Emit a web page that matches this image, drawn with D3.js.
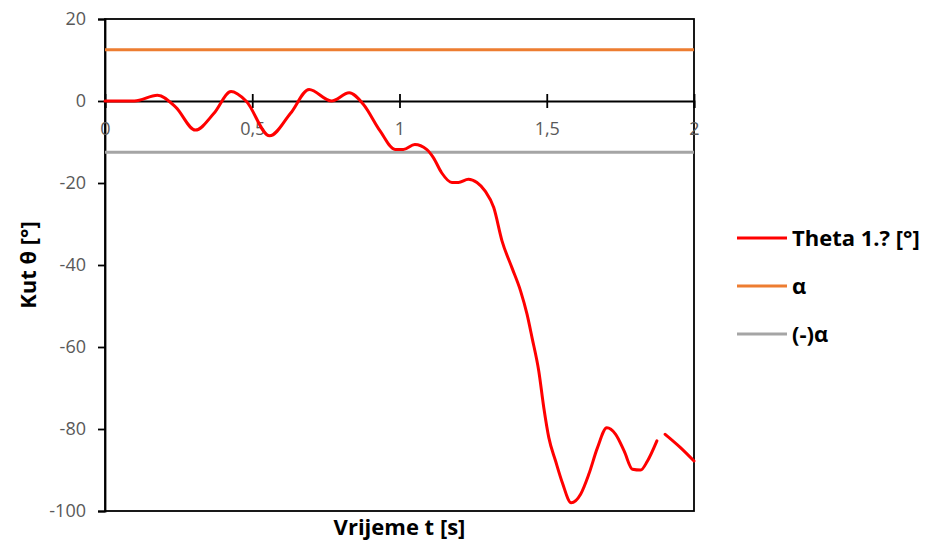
<!DOCTYPE html>
<html>
<head>
<meta charset="utf-8">
<title>Kut theta</title>
<script src="https://d3js.org/d3.v7.min.js"></script>
<style>
  body { margin: 0; background: #fff; }
  svg { display: block; font-family: "Open Sans", "Liberation Sans", sans-serif; }
</style>
</head>
<body>
<svg id="chart" width="931" height="548"></svg>
<script>
// time [s] and angle [deg], null = gap in the series
var times = [0, 0.1, 0.178, 0.24, 0.307, 0.37, 0.428, 0.479, 0.559, 0.63, 0.693, 0.769, 0.829, 0.877, 0.934, 0.985, 1.013, 1.052, 1.092, 1.115, 1.143, 1.178, 1.2, 1.234, 1.263, 1.291, 1.32, 1.348, 1.382, 1.411, 1.433, 1.45, 1.473, 1.49, 1.507, 1.53, 1.553, 1.583, 1.615, 1.643, 1.672, 1.704, 1.734, 1.763, 1.791, 1.819, 1.842, 1.874, 1.888, 1.902, 1.955, 2.0];
var theta = [0, 0, 1.4, -1.5, -7.1, -3, 2.3, 0, -8.5, -3, 2.8, 0, 2.0, -0.8, -7.3, -11.8, -11.8, -10.6, -11.8, -13.8, -17.5, -19.9, -19.9, -19.1, -19.9, -22, -26, -34.1, -40.7, -46.3, -52, -57.7, -65.9, -74.8, -82.1, -87.8, -93.1, -98, -95.9, -91, -84.6, -79.7, -81.3, -85.4, -89.8, -90, -87.8, -82.9, null, -81.3, -84.6, -87.8];
var alpha = 12.5;
var xTicks = [0, 0.5, 1, 1.5, 2];
var yTicks = [20, 0, -20, -40, -60, -80, -100];
var seriesNames = ["Theta 1.? [°]", "α", "(-)α"];
var seriesColors = ["#ff0000", "#ed7d31", "#a5a5a5"];

var svg = d3.select("#chart");
var m = { left: 105, top: 19, right: 694, bottom: 511 };

var x = d3.scaleLinear().domain([0, 2]).range([m.left, m.right]);
var y = d3.scaleLinear().domain([-100, 20]).range([m.bottom, m.top]);

// plot frame
svg.append("rect")
  .attr("x", m.left).attr("y", m.top)
  .attr("width", m.right - m.left).attr("height", m.bottom - m.top)
  .attr("fill", "none").attr("stroke", "#000").attr("stroke-width", 1.8);

// y axis
var yAxis = svg.append("g")
  .attr("transform", "translate(" + m.left + ",0)")
  .call(d3.axisLeft(y).tickValues(yTicks).tickSize(7).tickPadding(12)
    .tickFormat(function(d){ return String(d); }));
yAxis.select(".domain").attr("stroke", "#000").attr("stroke-width", 1.8);
yAxis.selectAll(".tick line").attr("stroke", "#000").attr("stroke-width", 1.8);
yAxis.selectAll(".tick text").attr("font-size", 18).attr("fill", "#595959")
  .attr("font-family", "'Open Sans', sans-serif");

// x axis at y = 0, ticks cross the line
var xAxis = svg.append("g")
  .attr("transform", "translate(0," + y(0) + ")")
  .call(d3.axisBottom(x).tickValues(xTicks).tickSize(7).tickPadding(14)
    .tickFormat(function(d){ return String(d).replace(".", ","); }));
xAxis.select(".domain").attr("stroke", "#000").attr("stroke-width", 1.8);
xAxis.selectAll(".tick line").attr("y1", -7).attr("stroke", "#000").attr("stroke-width", 1.8);
xAxis.selectAll(".tick text").attr("font-size", 18).attr("fill", "#595959")
  .attr("font-family", "'Open Sans', sans-serif");

// alpha lines
svg.append("line")
  .attr("x1", x(0)).attr("x2", x(2)).attr("y1", y(alpha)).attr("y2", y(alpha))
  .attr("stroke", seriesColors[1]).attr("stroke-width", 3);
svg.append("line")
  .attr("x1", x(0)).attr("x2", x(2)).attr("y1", y(-alpha)).attr("y2", y(-alpha))
  .attr("stroke", seriesColors[2]).attr("stroke-width", 3);

// theta line
var pts = times.map(function(t, i){ return [t, theta[i]]; });
var line = d3.line()
  .defined(function(d){ return d[1] !== null; })
  .x(function(d){ return x(d[0]); })
  .y(function(d){ return y(d[1]); })
  .curve(d3.curveMonotoneX);
svg.append("path")
  .datum(pts)
  .attr("d", line)
  .attr("fill", "none")
  .attr("stroke", seriesColors[0])
  .attr("stroke-width", 3)
  .attr("stroke-linejoin", "round").attr("stroke-linecap", "round");

// axis titles
svg.append("text")
  .attr("x", (m.left + m.right) / 2).attr("y", 535)
  .attr("text-anchor", "middle")
  .attr("font-size", 22).attr("font-weight", "bold").attr("fill", "#000")
  .text("Vrijeme t [s]");
svg.append("text")
  .attr("transform", "translate(36," + 265 + ") rotate(-90)")
  .attr("text-anchor", "middle")
  .attr("font-size", 22).attr("font-weight", "bold").attr("fill", "#000")
  .text("Kut θ [°]");

// legend
var leg = svg.append("g");
seriesNames.forEach(function(name, i){
  var ly = 238 + i * 48;
  leg.append("line")
    .attr("x1", 737).attr("x2", 787).attr("y1", ly).attr("y2", ly)
    .attr("stroke", seriesColors[i]).attr("stroke-width", 3);
  leg.append("text")
    .attr("x", 792).attr("y", ly + 8)
    .attr("font-size", 22).attr("font-weight", "bold").attr("fill", "#000")
    .text(name);
});
</script>
</body>
</html>
